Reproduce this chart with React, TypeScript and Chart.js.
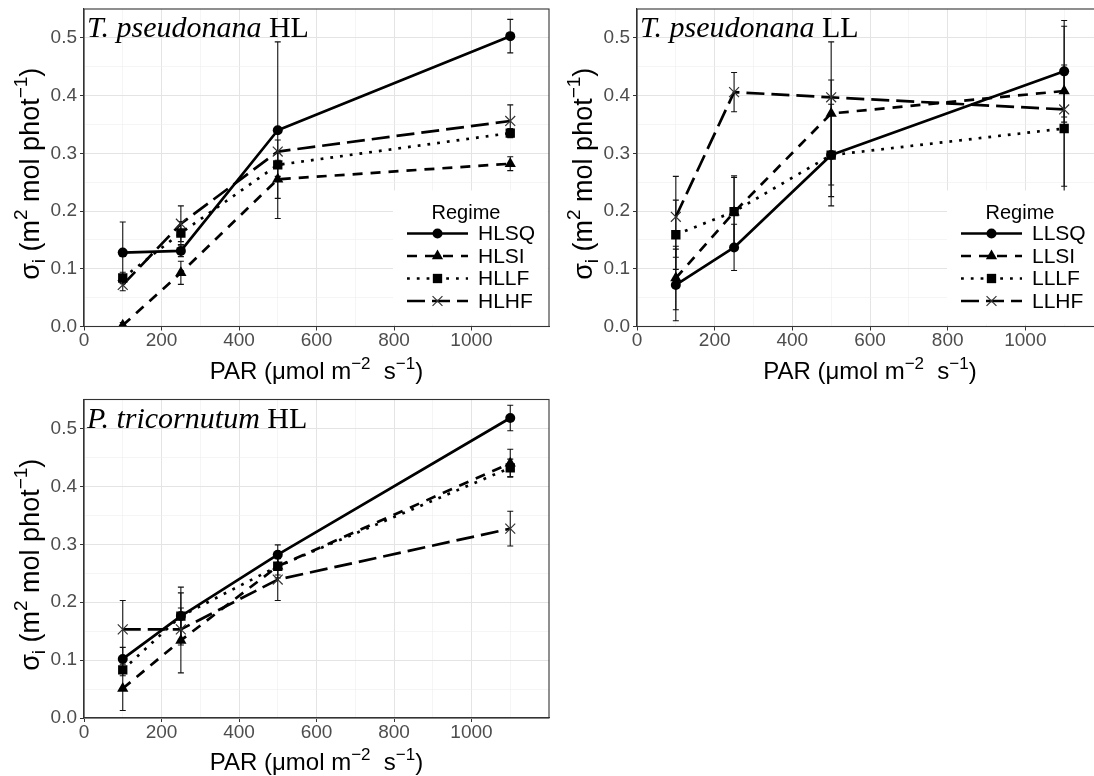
import React, { useEffect, useRef } from 'react';
import { Chart, registerables } from 'chart.js';

Chart.register(...registerables);

// ---------------- data ----------------
const PAR_LEVELS = [100, 250, 500, 1100];
const X_GRID_VALUES = [0, 100, 200, 300, 400, 500, 600, 700, 800, 900, 1000, 1100];
const Y_GRID_VALUES = [0, 0.05, 0.1, 0.15, 0.2, 0.25, 0.3, 0.35, 0.4, 0.45, 0.5];
const LEGEND_TITLE = 'Regime';

// T. pseudonana HL
const TP_HL_NAMES = ['HLSQ', 'HLSI', 'HLLF', 'HLHF'];
const TP_HL_SQ = [0.128, 0.131, 0.340, 0.503];
const TP_HL_SQ_ERR = [0.053, 0.010, 0.153, 0.029];
const TP_HL_SI = [0.002, 0.093, 0.255, 0.282];
const TP_HL_SI_ERR = [0.005, 0.020, 0.033, 0.012];
const TP_HL_LF = [0.084, 0.162, 0.280, 0.335];
const TP_HL_LF_ERR = [0.010, 0.020, 0.020, 0.008];
const TP_HL_HF = [0.072, 0.178, 0.303, 0.356];
const TP_HL_HF_ERR = [0.010, 0.031, 0.020, 0.028];

// T. pseudonana LL
const TP_LL_NAMES = ['LLSQ', 'LLSI', 'LLLF', 'LLHF'];
const TP_LL_SQ = [0.072, 0.137, 0.297, 0.442];
const TP_LL_SQ_ERR = [0.062, 0.040, 0.072, 0.088];
const TP_LL_SI = [0.084, 0.198, 0.369, 0.408];
const TP_LL_SI_ERR = [0.055, 0.060, 0.124, 0.045];
const TP_LL_LF = [0.159, 0.199, 0.297, 0.343];
const TP_LL_LF_ERR = [0.060, 0.062, 0.088, 0.100];
const TP_LL_HF = [0.190, 0.406, 0.397, 0.376];
const TP_LL_HF_ERR = [0.070, 0.034, 0.030, 0.144];

// P. tricornutum HL
const PT_HL_NAMES = ['HLSQ', 'HLSI', 'HLLF', 'HLHF'];
const PT_HL_SQ = [0.102, 0.176, 0.282, 0.518];
const PT_HL_SQ_ERR = [0.020, 0.050, 0.017, 0.022];
const PT_HL_SI = [0.051, 0.134, 0.262, 0.440];
const PT_HL_SI_ERR = [0.038, 0.056, 0.020, 0.024];
const PT_HL_LF = [0.083, 0.176, 0.262, 0.432];
const PT_HL_LF_ERR = [0.010, 0.040, 0.015, 0.015];
const PT_HL_HF = [0.153, 0.153, 0.239, 0.327];
const PT_HL_HF_ERR = [0.050, 0.020, 0.036, 0.030];

// ---------------- styles ----------------
const FONT_SANS = '"Liberation Sans", Arial, Helvetica, "DejaVu Sans", sans-serif';
const FONT_SERIF = '"Liberation Serif", "Times New Roman", serif';
const SERIES_STYLES = [
  { dash: [] as number[], point: 'circle', radius: 5 },
  { dash: [10, 8], point: 'triangle', radius: 6.5 },
  { dash: [2.8, 7], point: 'rect', radius: 6.6 },
  { dash: [18, 7], point: 'crossRot', radius: 7 },
];
const LINE_W = 2.7;
const GRID_MAJOR = '#E4E4E4';
const GRID_MINOR = '#EFEFEF';
const BORDER = '#333333';
const TICK_TEXT = '#4D4D4D';

type Seg = { t: string; s?: 'sup' | 'sub' };
const X_TITLE: Seg[] = [
  { t: 'PAR (\u03BCmol m' }, { t: '\u22122', s: 'sup' }, { t: '  s' }, { t: '\u22121', s: 'sup' }, { t: ')' },
];
const Y_TITLE: Seg[] = [
  { t: '\u03C3' }, { t: 'i', s: 'sub' }, { t: ' (m' }, { t: '2', s: 'sup' }, { t: ' mol phot' }, { t: '\u22121', s: 'sup' }, { t: ')' },
];

type PanelDef = {
  titleItalic: string;
  titleRest: string;
  names: string[];
  means: number[][];
  errs: number[][];
  legend: boolean;
};

const PANELS: PanelDef[] = [
  {
    titleItalic: 'T. pseudonana', titleRest: ' HL', names: TP_HL_NAMES,
    means: [TP_HL_SQ, TP_HL_SI, TP_HL_LF, TP_HL_HF],
    errs: [TP_HL_SQ_ERR, TP_HL_SI_ERR, TP_HL_LF_ERR, TP_HL_HF_ERR], legend: true,
  },
  {
    titleItalic: 'T. pseudonana', titleRest: ' LL', names: TP_LL_NAMES,
    means: [TP_LL_SQ, TP_LL_SI, TP_LL_LF, TP_LL_HF],
    errs: [TP_LL_SQ_ERR, TP_LL_SI_ERR, TP_LL_LF_ERR, TP_LL_HF_ERR], legend: true,
  },
  {
    titleItalic: 'P. tricornutum', titleRest: ' HL', names: PT_HL_NAMES,
    means: [PT_HL_SQ, PT_HL_SI, PT_HL_LF, PT_HL_HF],
    errs: [PT_HL_SQ_ERR, PT_HL_SI_ERR, PT_HL_LF_ERR, PT_HL_HF_ERR], legend: false,
  },
];

type Geom = { left: number; top: number; w: number; h: number; padTop: number; padRight: number; yAxisW: number; xAxisH: number };
const GEOMS: Geom[] = [
  { left: 0, top: 0, w: 560, h: 390, padTop: 9, padRight: 11, yAxisW: 84, xAxisH: 63.5 },
  { left: 553, top: 0, w: 560, h: 390, padTop: 9, padRight: 10, yAxisW: 84, xAxisH: 63.5 },
  { left: 0, top: 390, w: 560, h: 386, padTop: 9.5, padRight: 11, yAxisW: 84, xAxisH: 58 },
];

const isMajorX = (v: number) => Math.round(v) % 200 === 0;
const isMajorY = (v: number) => Math.round(v * 100) % 10 === 0;

function drawMarker(ctx: CanvasRenderingContext2D, style: string, x: number, y: number, r: number) {
  ctx.save();
  ctx.setLineDash([]);
  ctx.fillStyle = '#000';
  ctx.strokeStyle = '#000';
  ctx.beginPath();
  if (style === 'circle') {
    ctx.arc(x, y, r, 0, Math.PI * 2);
    ctx.fill();
  } else if (style === 'triangle') {
    for (let k = 0; k < 3; k++) {
      const a = -Math.PI / 2 + (k * 2 * Math.PI) / 3;
      const px = x + Math.cos(a) * r;
      const py = y + Math.sin(a) * r;
      if (k === 0) ctx.moveTo(px, py); else ctx.lineTo(px, py);
    }
    ctx.closePath();
    ctx.fill();
  } else if (style === 'rect') {
    const s = r * Math.SQRT1_2;
    ctx.rect(x - s, y - s, 2 * s, 2 * s);
    ctx.fill();
  } else {
    const s = r * Math.SQRT1_2;
    ctx.strokeStyle = '#333';
    ctx.lineWidth = 1.2;
    ctx.moveTo(x - s, y - s); ctx.lineTo(x + s, y + s);
    ctx.moveTo(x - s, y + s); ctx.lineTo(x + s, y - s);
    ctx.stroke();
  }
  ctx.restore();
}

function drawRich(ctx: CanvasRenderingContext2D, segs: Seg[], cx: number, cy: number, size: number, rotate: boolean) {
  ctx.save();
  ctx.translate(cx, cy);
  if (rotate) ctx.rotate(-Math.PI / 2);
  const fontFor = (s?: string) => `${s ? Math.round(size * 0.72) : size}px ${FONT_SANS}`;
  let total = 0;
  const widths = segs.map((seg) => {
    ctx.font = fontFor(seg.s);
    const w = ctx.measureText(seg.t).width;
    total += w;
    return w;
  });
  let x = -total / 2;
  ctx.textAlign = 'left';
  ctx.textBaseline = 'alphabetic';
  ctx.fillStyle = '#000';
  const base = size * 0.36;
  segs.forEach((seg, i) => {
    ctx.font = fontFor(seg.s);
    const dy = seg.s === 'sup' ? -size * 0.42 : seg.s === 'sub' ? size * 0.22 : 0;
    ctx.fillText(seg.t, x, base + dy);
    x += widths[i];
  });
  ctx.restore();
}

function makeChart(canvas: HTMLCanvasElement, panel: PanelDef, geom: Geom) {
  const datasets = panel.means.map((m, i) => {
    const st = SERIES_STYLES[i];
    return {
      label: panel.names[i],
      data: PAR_LEVELS.map((x, j) => ({ x, y: m[j] })),
      borderColor: '#000',
      borderWidth: LINE_W,
      borderDash: st.dash,
      borderCapStyle: 'butt',
      borderJoinStyle: 'round',
      pointStyle: st.point,
      pointRadius: st.radius,
      pointBackgroundColor: '#000',
      pointBorderColor: st.point === 'crossRot' ? '#333' : '#000',
      pointBorderWidth: st.point === 'crossRot' ? 1.2 : 0,
      fill: false,
      tension: 0,
      clip: 0,
    };
  });

  const errorBars = {
    id: 'errorBars',
    beforeDatasetsDraw(chart: any) {
      const { ctx, chartArea } = chart;
      const xs = chart.scales.x;
      const ys = chart.scales.y;
      ctx.save();
      ctx.beginPath();
      ctx.rect(chartArea.left, chartArea.top, chartArea.right - chartArea.left, chartArea.bottom - chartArea.top);
      ctx.clip();
      ctx.strokeStyle = '#111';
      ctx.lineWidth = 1.1;
      ctx.setLineDash([]);
      panel.means.forEach((m, i) => {
        m.forEach((v, j) => {
          const e = panel.errs[i][j];
          const px = xs.getPixelForValue(PAR_LEVELS[j]);
          const y1 = ys.getPixelForValue(v + e);
          const y2 = ys.getPixelForValue(v - e);
          ctx.beginPath();
          ctx.moveTo(px, y1); ctx.lineTo(px, y2);
          ctx.moveTo(px - 3, y1); ctx.lineTo(px + 3, y1);
          ctx.moveTo(px - 3, y2); ctx.lineTo(px + 3, y2);
          ctx.stroke();
        });
      });
      ctx.restore();
    },
  };

  const decorations = {
    id: 'decorations',
    afterDraw(chart: any) {
      const { ctx, chartArea } = chart;
      const L = chartArea.left, R = chartArea.right, T = chartArea.top, B = chartArea.bottom;
      // legend
      if (panel.legend) {
        ctx.save();
        ctx.fillStyle = '#fff';
        ctx.fillRect(R - 156, B - 136, 155, 134);
        ctx.fillStyle = '#000';
        ctx.font = `20px ${FONT_SANS}`;
        ctx.textAlign = 'center';
        ctx.textBaseline = 'alphabetic';
        ctx.fillText(LEGEND_TITLE, R - 83, B - 108);
        const rowY = [B - 93, B - 70.5, B - 48, B - 25.5];
        panel.names.forEach((name, i) => {
          const st = SERIES_STYLES[i];
          const y = rowY[i];
          ctx.save();
          ctx.strokeStyle = '#000';
          ctx.lineWidth = LINE_W;
          ctx.lineCap = 'butt';
          ctx.setLineDash(st.dash);
          ctx.beginPath();
          ctx.moveTo(R - 142, y);
          ctx.lineTo(R - 81, y);
          ctx.stroke();
          ctx.restore();
          drawMarker(ctx, st.point, R - 111.5, y, st.radius);
          ctx.fillStyle = '#000';
          ctx.font = `21px ${FONT_SANS}`;
          ctx.textAlign = 'left';
          ctx.textBaseline = 'middle';
          ctx.fillText(name, R - 71, y + 1);
        });
        ctx.restore();
      }
      // panel border
      ctx.save();
      ctx.strokeStyle = BORDER;
      ctx.lineWidth = 1.1;
      ctx.strokeRect(L, T, R - L, B - T);
      ctx.restore();
      // panel title
      ctx.save();
      ctx.fillStyle = '#000';
      ctx.textAlign = 'left';
      ctx.textBaseline = 'alphabetic';
      ctx.font = `italic 30px ${FONT_SERIF}`;
      ctx.fillText(panel.titleItalic, L + 3, T + 28);
      const w = ctx.measureText(panel.titleItalic).width;
      ctx.font = `30px ${FONT_SERIF}`;
      ctx.fillText(panel.titleRest, L + 3 + w, T + 28);
      ctx.restore();
      // axis titles
      drawRich(ctx, X_TITLE, (L + R) / 2, B + 43.5, 24, false);
      drawRich(ctx, Y_TITLE, L - 55, (T + B) / 2 + 6, 27, true);
    },
  };

  return new Chart(canvas, {
    type: 'line',
    data: { datasets } as any,
    options: {
      responsive: false,
      animation: false,
      devicePixelRatio: 1,
      layout: { padding: { top: geom.padTop, right: geom.padRight, left: 0, bottom: 0 } },
      plugins: { legend: { display: false }, tooltip: { enabled: false }, title: { display: false } },
      scales: {
        x: {
          type: 'linear',
          min: 0,
          max: 1200,
          afterBuildTicks: (axis: any) => { axis.ticks = X_GRID_VALUES.map((v) => ({ value: v })); },
          afterFit: (axis: any) => { axis.height = geom.xAxisH; axis.paddingLeft = 0; axis.paddingRight = 0; },
          grid: {
            color: (c: any) => (c.tick && isMajorX(c.tick.value) ? GRID_MAJOR : GRID_MINOR),
            lineWidth: (c: any) => (c.tick && isMajorX(c.tick.value) ? 1 : 0.6),
            tickColor: (c: any) => (c.tick && isMajorX(c.tick.value) ? BORDER : 'rgba(0,0,0,0)'),
            tickLength: 4,
            drawTicks: true,
          },
          border: { display: true, color: BORDER, width: 1.1 },
          ticks: {
            autoSkip: false,
            maxRotation: 0,
            padding: 1,
            color: TICK_TEXT,
            font: { family: FONT_SANS, size: 19, lineHeight: 1 },
            callback: (v: any) => (isMajorX(Number(v)) ? String(v) : ''),
          },
        },
        y: {
          type: 'linear',
          min: 0,
          max: 0.55,
          afterBuildTicks: (axis: any) => { axis.ticks = Y_GRID_VALUES.map((v) => ({ value: v })); },
          afterFit: (axis: any) => { axis.width = geom.yAxisW; axis.paddingTop = 0; axis.paddingBottom = 0; },
          grid: {
            color: (c: any) => (c.tick && isMajorY(c.tick.value) ? GRID_MAJOR : GRID_MINOR),
            lineWidth: (c: any) => (c.tick && isMajorY(c.tick.value) ? 1 : 0.6),
            tickColor: (c: any) => (c.tick && isMajorY(c.tick.value) ? BORDER : 'rgba(0,0,0,0)'),
            tickLength: 4,
            drawTicks: true,
          },
          border: { display: true, color: BORDER, width: 1.1 },
          ticks: {
            autoSkip: false,
            padding: 3,
            color: TICK_TEXT,
            font: { family: FONT_SANS, size: 19, lineHeight: 1 },
            callback: (v: any) => (isMajorY(Number(v)) ? Number(v).toFixed(1) : ''),
          },
        },
      },
    } as any,
    plugins: [errorBars, decorations],
  });
}

export default function App() {
  const r1 = useRef<HTMLCanvasElement>(null);
  const r2 = useRef<HTMLCanvasElement>(null);
  const r3 = useRef<HTMLCanvasElement>(null);

  useEffect(() => {
    const refs = [r1, r2, r3];
    const charts = refs.map((r, i) => makeChart(r.current as HTMLCanvasElement, PANELS[i], GEOMS[i]));
    return () => charts.forEach((c) => c.destroy());
  }, []);

  const refs = [r1, r2, r3];
  return (
    <div style={{ position: 'fixed', left: 0, top: 0, width: 1094, height: 776, overflow: 'hidden', background: '#fff' }}>
      {GEOMS.map((g, i) => (
        <canvas
          key={i}
          ref={refs[i]}
          width={g.w}
          height={g.h}
          style={{ position: 'absolute', left: g.left, top: g.top, width: g.w, height: g.h }}
        />
      ))}
    </div>
  );
}
